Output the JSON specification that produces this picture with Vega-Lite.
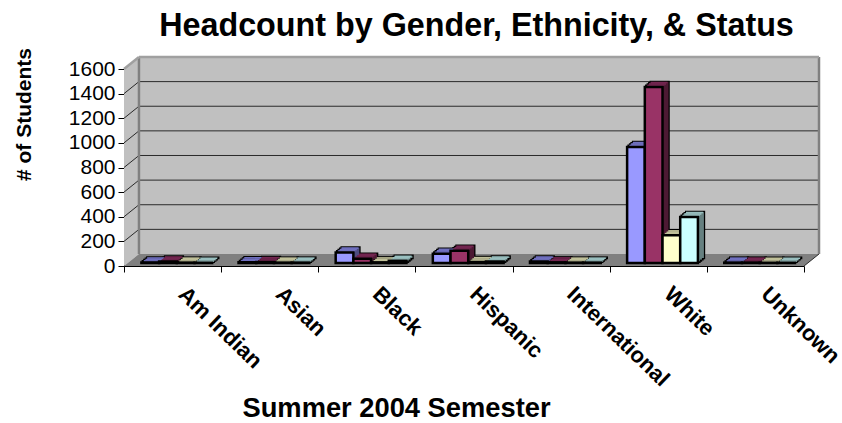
{"$schema":"https://vega.github.io/schema/vega-lite/v6.json","width":695,"height":209,"autosize":"none","padding":{"left":124,"top":57,"right":23,"bottom":157},"background":"white","config":{"view":{"stroke":null},"font":"Liberation Sans"},
"title":{"text":"Headcount by Gender, Ethnicity, & Status","font":"Liberation Sans","fontWeight":"bold","fontSize":32.3,"color":"black","anchor":"middle","frame":"group","dx":5,"offset":5},
"datasets":{
"bars":[
{"cat":"Am Indian","s":"Men","v":4},{"cat":"Am Indian","s":"Women","v":12},{"cat":"Am Indian","s":"Full-Time","v":3},{"cat":"Am Indian","s":"Part-Time","v":2},
{"cat":"Asian","s":"Men","v":6},{"cat":"Asian","s":"Women","v":8},{"cat":"Asian","s":"Full-Time","v":3},{"cat":"Asian","s":"Part-Time","v":3},
{"cat":"Black","s":"Men","v":85},{"cat":"Black","s":"Women","v":35},{"cat":"Black","s":"Full-Time","v":5},{"cat":"Black","s":"Part-Time","v":18},
{"cat":"Hispanic","s":"Men","v":75},{"cat":"Hispanic","s":"Women","v":100},{"cat":"Hispanic","s":"Full-Time","v":8},{"cat":"Hispanic","s":"Part-Time","v":12},
{"cat":"International","s":"Men","v":12},{"cat":"International","s":"Women","v":5},{"cat":"International","s":"Full-Time","v":3},{"cat":"International","s":"Part-Time","v":3},
{"cat":"White","s":"Men","v":942},{"cat":"White","s":"Women","v":1430},{"cat":"White","s":"Full-Time","v":225},{"cat":"White","s":"Part-Time","v":374},
{"cat":"Unknown","s":"Men","v":3},{"cat":"Unknown","s":"Women","v":3},{"cat":"Unknown","s":"Full-Time","v":2},{"cat":"Unknown","s":"Part-Time","v":2}],
"leftwall":[{"x":0,"y":0,"y2":1600},{"x":0.154,"y":97.5,"y2":1697.5}],
"floor":[{"x":0,"y":0,"y2":0},{"x":0.154,"y":97.5,"y2":0},{"x":7,"y":97.5,"y2":0},{"x":7.154,"y":97.5,"y2":97.5}],
"grid":[{"x":0.154,"x2":7.154,"y":297.5,"y2":297.5},{"x":0.154,"x2":7.154,"y":497.5,"y2":497.5},{"x":0.154,"x2":7.154,"y":697.5,"y2":697.5},{"x":0.154,"x2":7.154,"y":897.5,"y2":897.5},{"x":0.154,"x2":7.154,"y":1097.5,"y2":1097.5},{"x":0.154,"x2":7.154,"y":1297.5,"y2":1297.5},{"x":0.154,"x2":7.154,"y":1497.5,"y2":1497.5},
{"x":0,"x2":0.154,"y":200,"y2":297.5},{"x":0,"x2":0.154,"y":400,"y2":497.5},{"x":0,"x2":0.154,"y":600,"y2":697.5},{"x":0,"x2":0.154,"y":800,"y2":897.5},{"x":0,"x2":0.154,"y":1000,"y2":1097.5},{"x":0,"x2":0.154,"y":1200,"y2":1297.5},{"x":0,"x2":0.154,"y":1400,"y2":1497.5},
{"x":7,"x2":7.154,"y":0,"y2":97.5}],
"edgeDark":[{"x":0.154,"x2":0.154,"y":97.5,"y2":1697.5},{"x":7.154,"x2":7.154,"y":97.5,"y2":1697.5}],
"edgeLight":[{"x":0.154,"x2":7.154,"y":1697.5,"y2":1697.5},{"x":0,"x2":0.154,"y":1600,"y2":1697.5}]
},
"resolve":{"scale":{"x":"independent"},"axis":{"x":"independent","y":"independent"}},
"layer":[
{"encoding":{"y":{"field":"y","type":"quantitative","scale":{"domain":[0,1600],"range":[209,12]},"axis":null},"x":{"field":"x","type":"quantitative","scale":{"domain":[0,7.154],"range":[0,695]},"axis":null}},
"layer":[
{"data":{"name":"leftwall"},"mark":{"type":"area","color":"#C0C0C0"},"encoding":{"y2":{"field":"y2"}}},
{"data":{"name":"edgeLight"},"mark":{"type":"rect","color":"#C0C0C0"},"encoding":{"y":{"datum":97.5},"y2":{"datum":1697.5},"x":{"datum":0.154},"x2":{"datum":7.154}}},
{"data":{"name":"floor"},"mark":{"type":"area","color":"#808080"},"encoding":{"y2":{"field":"y2"}}},
{"data":{"name":"grid"},"mark":{"type":"rule","color":"#2a2a2a","strokeWidth":1},"encoding":{"x2":{"field":"x2"},"y2":{"field":"y2"}}},
{"data":{"name":"edgeDark"},"mark":{"type":"rule","color":"#808080","strokeWidth":2.5},"encoding":{"x2":{"field":"x2"},"y2":{"field":"y2"}}},
{"data":{"name":"edgeLight"},"mark":{"type":"rule","color":"#A0A0A0","strokeWidth":2.5},"encoding":{"x2":{"field":"x2"},"y2":{"field":"y2"}}}
]},
{"data":{"name":"bars"},
"resolve":{"scale":{"fill":"independent","xOffset":"independent"}},
"encoding":{
"x":{"field":"cat","type":"nominal","sort":["Am Indian","Asian","Black","Hispanic","International","White","Unknown"],"scale":{"type":"band","range":[0,680],"paddingInner":0,"paddingOuter":0},
"axis":{"title":"Summer 2004 Semester","titleFont":"Liberation Sans","titleFontWeight":"bold","titleFontSize":27.3,"titleColor":"black","titleX":272,"titleY":142,"titleAlign":"center","titleBaseline":"middle","labelFont":"Liberation Sans","labelFontWeight":"bold","labelFontSize":22,"labelColor":"black","labelAngle":44,"labelAlign":"left","labelBaseline":"top","labelPadding":11,"labelOffset":16,"labelOverlap":false,"labelFlush":false,"labelBound":false,"tickBand":"extent","tickColor":"black","tickSize":6,"domainColor":"black","grid":false}},
"y":{"field":"v","type":"quantitative","scale":{"domain":[0,1600],"range":[209,12]},
"axis":{"title":"# of Students","titleFont":"Liberation Sans","titleFontWeight":"bold","titleFontSize":21,"titleColor":"black","titleX":-100,"titleY":57,"titleAngle":270,"titleAlign":"center","titleBaseline":"middle","values":[0,200,400,600,800,1000,1200,1400,1600],"format":"d","labelFont":"Liberation Sans","labelFontSize":21,"labelColor":"black","labelPadding":3,"tickColor":"black","tickSize":6,"domainColor":"black","grid":false}},
"y2":{"datum":0}},
"layer":[
{"mark":{"type":"bar","color":"black","stroke":"black","strokeWidth":2.5,"yOffset":-8,"y2Offset":-8},"encoding":{"xOffset":{"field":"s","type":"nominal","sort":["Men","Women","Full-Time","Part-Time"],"scale":{"paddingInner":0,"paddingOuter":0,"range":[23.4,94.2]}}}},
{"mark":{"type":"bar","color":"black","stroke":"black","strokeWidth":2.5,"yOffset":-6.75,"y2Offset":-6.75},"encoding":{"xOffset":{"field":"s","type":"nominal","sort":["Men","Women","Full-Time","Part-Time"],"scale":{"paddingInner":0,"paddingOuter":0,"range":[21.9,92.7]}}}},
{"mark":{"type":"bar","color":"black","stroke":"black","strokeWidth":2.5,"yOffset":-5.5,"y2Offset":-5.5},"encoding":{"xOffset":{"field":"s","type":"nominal","sort":["Men","Women","Full-Time","Part-Time"],"scale":{"paddingInner":0,"paddingOuter":0,"range":[20.4,91.2]}}}},
{"mark":{"type":"bar","color":"black","stroke":"black","strokeWidth":2.5,"yOffset":-4.25,"y2Offset":-4.25},"encoding":{"xOffset":{"field":"s","type":"nominal","sort":["Men","Women","Full-Time","Part-Time"],"scale":{"paddingInner":0,"paddingOuter":0,"range":[18.9,89.7]}}}},
{"mark":{"type":"bar","stroke":null,"yOffset":-8,"y2Offset":-8},"encoding":{"xOffset":{"field":"s","type":"nominal","sort":["Men","Women","Full-Time","Part-Time"],"scale":{"paddingInner":0,"paddingOuter":0,"range":[23.4,94.2]}},"fill":{"field":"s","legend":null,"sort":["Men","Women","Full-Time","Part-Time"],"scale":{"range":["#4D4D80","#4D1A33","#808066","#668080"]}}}},
{"mark":{"type":"bar","stroke":null,"yOffset":-6.4,"y2Offset":-6.4},"encoding":{"xOffset":{"field":"s","type":"nominal","sort":["Men","Women","Full-Time","Part-Time"],"scale":{"paddingInner":0,"paddingOuter":0,"range":[21.4,92.2]}},"fill":{"field":"s","legend":null,"sort":["Men","Women","Full-Time","Part-Time"],"scale":{"range":["#4D4D80","#4D1A33","#808066","#668080"]}}}},
{"mark":{"type":"bar","stroke":null,"yOffset":-4.8,"y2Offset":-4.8},"encoding":{"xOffset":{"field":"s","type":"nominal","sort":["Men","Women","Full-Time","Part-Time"],"scale":{"paddingInner":0,"paddingOuter":0,"range":[19.4,90.2]}},"fill":{"field":"s","legend":null,"sort":["Men","Women","Full-Time","Part-Time"],"scale":{"range":["#4D4D80","#4D1A33","#808066","#668080"]}}}},
{"mark":{"type":"tick","orient":"horizontal","size":17,"thickness":1.6,"opacity":1,"yOffset":-7.4},"encoding":{"y2":null,"xOffset":{"field":"s","type":"nominal","sort":["Men","Women","Full-Time","Part-Time"],"scale":{"paddingInner":0,"paddingOuter":0,"range":[22.8,93.6]}},"fill":{"field":"s","legend":null,"sort":["Men","Women","Full-Time","Part-Time"],"scale":{"range":["#7070C0","#732650","#C0C099","#99BFBF"]}}}},
{"mark":{"type":"tick","orient":"horizontal","size":17,"thickness":1.6,"opacity":1,"yOffset":-6},"encoding":{"y2":null,"xOffset":{"field":"s","type":"nominal","sort":["Men","Women","Full-Time","Part-Time"],"scale":{"paddingInner":0,"paddingOuter":0,"range":[21.2,92]}},"fill":{"field":"s","legend":null,"sort":["Men","Women","Full-Time","Part-Time"],"scale":{"range":["#7070C0","#732650","#C0C099","#99BFBF"]}}}},
{"mark":{"type":"tick","orient":"horizontal","size":17,"thickness":1.6,"opacity":1,"yOffset":-4.6},"encoding":{"y2":null,"xOffset":{"field":"s","type":"nominal","sort":["Men","Women","Full-Time","Part-Time"],"scale":{"paddingInner":0,"paddingOuter":0,"range":[19.6,90.4]}},"fill":{"field":"s","legend":null,"sort":["Men","Women","Full-Time","Part-Time"],"scale":{"range":["#7070C0","#732650","#C0C099","#99BFBF"]}}}},
{"mark":{"type":"bar","yOffset":-3,"y2Offset":-3,"stroke":"black","strokeWidth":2.5},"encoding":{"xOffset":{"field":"s","type":"nominal","sort":["Men","Women","Full-Time","Part-Time"],"scale":{"paddingInner":0,"paddingOuter":0,"range":[17.4,88.2]}},"fill":{"field":"s","legend":null,"sort":["Men","Women","Full-Time","Part-Time"],"scale":{"range":["#9999FF","#993366","#FFFFCC","#CCFFFF"]}}}}
]}
]}
